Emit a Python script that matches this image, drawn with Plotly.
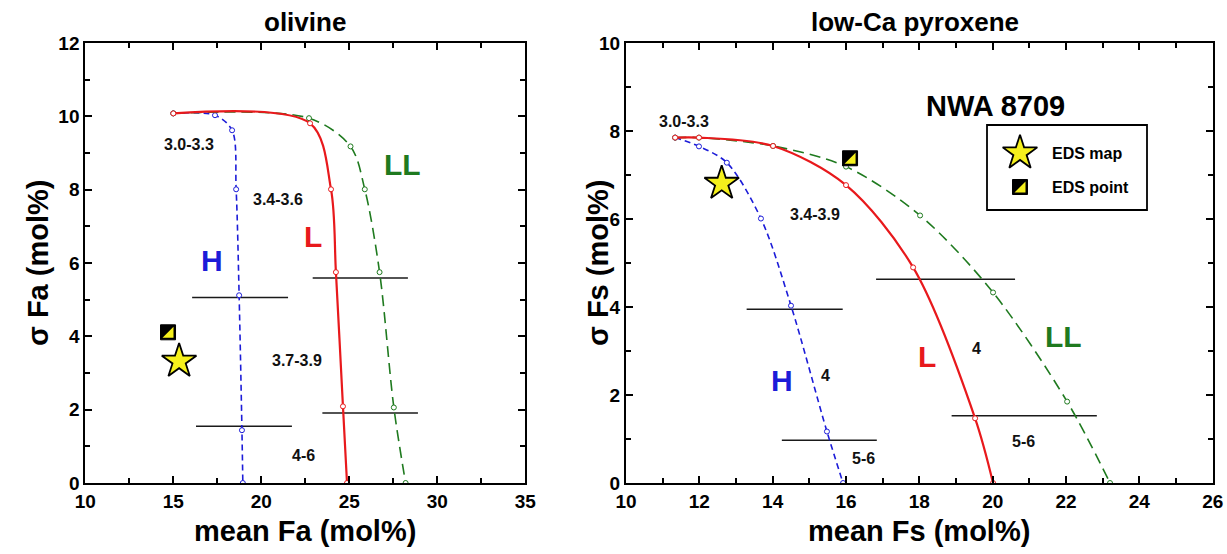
import plotly.graph_objects as go

# ---------------- data: olivine (left panel) ----------------
ol_H_x = [15.0, 17.37, 18.34, 18.57, 18.74, 18.9, 18.95]
ol_H_y = [10.08, 10.03, 9.62, 8.01, 5.12, 1.44, 0.0]
ol_L_x = [15.0, 22.77, 23.96, 24.24, 24.64, 24.87]
ol_L_y = [10.08, 9.81, 8.01, 5.75, 2.09, 0.0]
ol_LL_x = [15.0, 22.71, 25.07, 25.88, 26.72, 27.53, 28.2]
ol_LL_y = [10.08, 9.95, 9.18, 8.01, 5.75, 2.06, 0.0]
ol_bar_y = [5.06, 1.55, 5.59, 1.91]
ol_bar_x0 = [16.07, 16.29, 22.92, 23.47]
ol_bar_x1 = [21.52, 21.74, 28.33, 28.9]
ol_map = (15.33, 3.32)
ol_point = (14.7, 4.11)
ol_type_text = ["3.0-3.3", "3.4-3.6", "3.7-3.9", "4-6"]
ol_type_x = [15.9, 20.95, 22.01, 22.37]
ol_type_y = [9.23, 7.73, 3.35, 0.75]
ol_group_text = ["H", "L", "LL"]
ol_group_x = [17.18, 22.94, 28.0]
ol_group_y = [6.07, 6.71, 8.69]

# ---------------- data: low-Ca pyroxene (right panel) ----------------
px_H_x = [11.34, 11.99, 12.75, 13.68, 14.5, 15.48, 15.92]
px_H_y = [7.85, 7.65, 7.28, 6.01, 4.03, 1.17, 0.0]
px_L_x = [11.34, 11.99, 14.01, 16.0, 17.83, 19.52, 20.01]
px_L_y = [7.85, 7.85, 7.66, 6.77, 4.9, 1.47, 0.0]
px_LL_x = [11.34, 11.99, 14.01, 16.0, 18.02, 20.01, 22.03, 23.2]
px_LL_y = [7.85, 7.85, 7.66, 7.19, 6.08, 4.33, 1.85, 0.0]
px_bar_y = [3.95, 4.63, 0.97, 1.53]
px_bar_x0 = [13.29, 16.82, 14.25, 18.88]
px_bar_x1 = [15.91, 20.61, 16.84, 22.84]
px_map = (12.61, 6.81)
px_point = (16.11, 7.38)
px_type_text = ["3.0-3.3", "3.4-3.9", "4", "5-6", "4", "5-6"]
px_type_x = [11.58, 15.15, 15.45, 16.47, 19.56, 20.83]
px_type_y = [8.22, 6.1, 2.45, 0.56, 3.06, 0.94]
px_group_text = ["H", "L", "LL"]
px_group_x = [14.25, 18.2, 21.93]
px_group_y = [2.34, 2.87, 3.32]

legend_labels = ["EDS map", "EDS point"]

BLUE = "#1c1cd8"
RED = "#e8191c"
GREEN = "#1f7a1f"
GROUP_COLORS = [BLUE, RED, GREEN]
FONT = "Liberation Sans, Arial, sans-serif"
STAR_FILL = "#f5f01c"

W, H = 1227, 554
ML, MR, MT, MB = 40, 10, 30, 60
PW, PH = W - ML - MR, H - MT - MB


def fx(px):  # page pixel -> paper fraction
    return (px - ML) / PW


def fy(py):
    return (H - MB - py) / PH


fig = go.Figure()


def add_curve(xs, ys, color, dash, width, xa, ya):
    fig.add_trace(go.Scatter(
        x=xs, y=ys, mode="lines+markers", xaxis=xa, yaxis=ya,
        line=dict(color=color, dash=dash, width=width, shape="spline", smoothing=0.9),
        marker=dict(symbol="circle", size=5, color="white", line=dict(color=color, width=1)),
        showlegend=False, hoverinfo="skip"))


def add_bars(y, x0, x1, xa, ya):
    for yy, a, b in zip(y, x0, x1):
        fig.add_trace(go.Scatter(
            x=[a, b], y=[yy, yy], mode="lines", xaxis=xa, yaxis=ya,
            line=dict(color="#1a1a1a", width=1.5), showlegend=False, hoverinfo="skip"))


def add_star(x, y, xa, ya):
    fig.add_trace(go.Scatter(
        x=[x], y=[y], mode="markers", xaxis=xa, yaxis=ya,
        marker=dict(symbol="star", size=26, color=STAR_FILL, line=dict(color="black", width=1.8)),
        showlegend=False, hoverinfo="skip"))


def add_point(x, y, xa, ya, xref, yref):
    fig.add_trace(go.Scatter(
        x=[x], y=[y], mode="markers", xaxis=xa, yaxis=ya,
        marker=dict(symbol="square", size=15, color="black", line=dict(color="black", width=1)),
        showlegend=False, hoverinfo="skip"))
    fig.add_shape(type="path", xref=xref, yref=yref, xsizemode="pixel", ysizemode="pixel",
                  xanchor=x, yanchor=y, path="M -5.5,-5.5 L 5.5,-5.5 L 5.5,5.5 Z",
                  fillcolor=STAR_FILL, line=dict(width=0), layer="above")


# left panel
add_bars(ol_bar_y, ol_bar_x0, ol_bar_x1, "x", "y")
add_curve(ol_H_x, ol_H_y, BLUE, "6px,4px", 1.6, "x", "y")
add_curve(ol_LL_x, ol_LL_y, GREEN, "11px,6px", 1.6, "x", "y")
add_curve(ol_L_x, ol_L_y, RED, "solid", 2.2, "x", "y")
add_star(ol_map[0], ol_map[1], "x", "y")
add_point(ol_point[0], ol_point[1], "x", "y", "x", "y")

# right panel
add_bars(px_bar_y, px_bar_x0, px_bar_x1, "x2", "y2")
add_curve(px_H_x, px_H_y, BLUE, "6px,4px", 1.6, "x2", "y2")
add_curve(px_LL_x, px_LL_y, GREEN, "11px,6px", 1.6, "x2", "y2")
add_curve(px_L_x, px_L_y, RED, "solid", 2.2, "x2", "y2")
add_star(px_map[0], px_map[1], "x2", "y2")
add_point(px_point[0], px_point[1], "x2", "y2", "x2", "y2")

# manual legend on an invisible overlay axis spanning the paper
LEG_SYM_PX = 1020
LEG_TXT_PX = 1050
LEG_ROW_PY = [153, 187]
add_star(fx(LEG_SYM_PX), fy(LEG_ROW_PY[0]), "x3", "y3")
add_point(fx(LEG_SYM_PX), fy(LEG_ROW_PY[1]), "x3", "y3", "x3", "y3")
fig.add_shape(type="rect", xref="paper", yref="paper", x0=fx(987), x1=fx(1147), y0=fy(210), y1=fy(125),
              line=dict(color="black", width=1.8), fillcolor="rgba(0,0,0,0)", layer="below")
for lab, py in zip(legend_labels, LEG_ROW_PY):
    fig.add_annotation(x=fx(LEG_TXT_PX), y=fy(py), xref="paper", yref="paper", text="<b>%s</b>" % lab,
                       showarrow=False, xanchor="left", yanchor="middle",
                       font=dict(family=FONT, size=16, color="black"))

# text labels
for t, x, y in zip(ol_type_text, ol_type_x, ol_type_y):
    fig.add_annotation(x=x, y=y, xref="x", yref="y", text="<b>%s</b>" % t, showarrow=False,
                       font=dict(family=FONT, size=16, color="#111"))
for t, x, y, c in zip(ol_group_text, ol_group_x, ol_group_y, GROUP_COLORS):
    fig.add_annotation(x=x, y=y, xref="x", yref="y", text="<b>%s</b>" % t, showarrow=False,
                       font=dict(family=FONT, size=30, color=c))
for t, x, y in zip(px_type_text, px_type_x, px_type_y):
    fig.add_annotation(x=x, y=y, xref="x2", yref="y2", text="<b>%s</b>" % t, showarrow=False,
                       font=dict(family=FONT, size=16, color="#111"))
for t, x, y, c in zip(px_group_text, px_group_x, px_group_y, GROUP_COLORS):
    fig.add_annotation(x=x, y=y, xref="x2", yref="y2", text="<b>%s</b>" % t, showarrow=False,
                       font=dict(family=FONT, size=30, color=c))
fig.add_annotation(x=fx(1067), y=fy(88), xref="paper", yref="paper", text="<b>NWA 8709</b>",
                   showarrow=False, font=dict(family=FONT, size=29, color="black"))

# titles (page-pixel centres)
titles = [
    ("olivine", 305, 22, 0, 26),
    ("low-Ca pyroxene", 915, 22, 0, 26),
    ("mean Fa (mol%)", 305, 531, 0, 29),
    ("mean Fs (mol%)", 919, 531, 0, 29),
    ("σ Fa (mol%)", 38, 263, -90, 29),
    ("σ Fs (mol%)", 598, 263, -90, 29),
]
for t, x, y, ang, sz in titles:
    fig.add_annotation(x=fx(x), y=fy(y), xref="paper", yref="paper", text="<b>%s</b>" % t,
                       showarrow=False, textangle=ang, xanchor="center", yanchor="middle",
                       font=dict(family=FONT, size=sz, color="black"))

axis_common = dict(showgrid=False, zeroline=False, showline=True, linecolor="black", linewidth=2,
                   mirror="ticks", ticks="inside", ticklen=7, tickwidth=2, tickcolor="black",
                   automargin=False,
                   tickfont=dict(family=FONT, size=19, color="black", weight="bold"))
minor_common = dict(ticks="inside", ticklen=5, tickwidth=2, tickcolor="black")
ydom = [fy(483), fy(43)]
fig.update_layout(
    width=W, height=H, autosize=False,
    margin=dict(l=ML, r=MR, t=MT, b=MB, autoexpand=False),
    paper_bgcolor="white", plot_bgcolor="rgba(0,0,0,0)",
    showlegend=False,
    xaxis=dict(domain=[fx(85.3), fx(525.3)], range=[10, 35], dtick=5, anchor="y",
               minor=dict(dtick=2.5, **minor_common), **axis_common),
    yaxis=dict(domain=ydom, range=[0, 12], dtick=2, anchor="x",
               minor=dict(dtick=1, **minor_common), **axis_common),
    xaxis2=dict(domain=[fx(626), fx(1212.7)], range=[10, 26], dtick=2, anchor="y2",
                minor=dict(dtick=1, **minor_common), **axis_common),
    yaxis2=dict(domain=ydom, range=[0, 10], dtick=2, anchor="x2",
                minor=dict(dtick=1, **minor_common), **axis_common),
    xaxis3=dict(domain=[0, 1], range=[0, 1], visible=False, anchor="y3", fixedrange=True),
    yaxis3=dict(domain=[0, 1], range=[0, 1], visible=False, anchor="x3", fixedrange=True),
)

fig.write_html("out.html", config={"displayModeBar": False},
               post_script="document.body.style.margin='0px';")
